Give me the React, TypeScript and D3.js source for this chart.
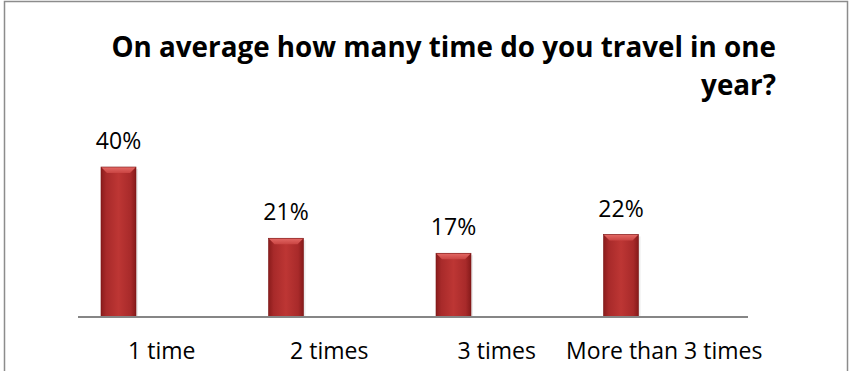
import React from "react";
import * as d3 from "d3";

const categories = ["1 time", "2 times", "3 times", "More than 3 times"];
const values = [40, 21, 17, 22];
const valueLabels = ["40%", "21%", "17%", "22%"];
const titleLines = ["On average how many time do you travel in one", "year?"];

const W = 850;
const H = 371;
const FONT = "'Open Sans', sans-serif";

export default function App() {
  const x = d3.scaleBand<string>().domain(categories).range([78, 748]).paddingInner(0).paddingOuter(0);
  const y = d3.scaleLinear().domain([0, 50]).range([317, 129.5]);
  const barW = 35;
  const barOff = 23;
  const base = y(0);

  return (
    <svg width={W} height={H} style={{ position: "absolute", left: 0, top: 0, background: "#fff" }}>
      <defs>
        <linearGradient id="barGrad" x1="0" x2="1" y1="0" y2="0">
          <stop offset="0" stopColor="#8a1c1c" />
          <stop offset="0.15" stopColor="#a82a2a" />
          <stop offset="0.5" stopColor="#bd3634" />
          <stop offset="0.85" stopColor="#a82a2a" />
          <stop offset="1" stopColor="#861a1a" />
        </linearGradient>
        <linearGradient id="topGrad" x1="0" x2="0" y1="0" y2="1">
          <stop offset="0" stopColor="#e46a66" />
          <stop offset="1" stopColor="#c94442" />
        </linearGradient>
      </defs>
      <rect x={4.5} y={1.5} width={843} height={390} fill="#fff" stroke="#8c8c8c" strokeWidth={1.5} />
      <g fontFamily={FONT} fontWeight="bold" fontSize={27.8} fill="#000">
        <text x={776} y={57} textAnchor="end">{titleLines[0]}</text>
        <text x={776} y={95} textAnchor="end">{titleLines[1]}</text>
      </g>
      {categories.map((c, i) => {
        const bx = (x(c) as number) + barOff;
        const top = y(values[i]);
        const h = base - top;
        const bev = 6;
        return (
          <g key={c}>
            <rect x={bx + 2} y={top + 2} width={barW} height={h - 2} fill="#000" opacity={0.08} />
            <rect x={bx} y={top} width={barW} height={h} fill="url(#barGrad)" />
            <path
              d={`M${bx},${top}L${bx + barW},${top}L${bx + barW - bev},${top + bev}L${bx + bev},${top + bev}Z`}
              fill="url(#topGrad)"
            />
            <rect x={bx} y={top} width={barW} height={h} fill="none" stroke="#7a1616" strokeWidth={0.6} />
            <text x={bx + barW / 2} y={top - 18} textAnchor="middle" fontFamily={FONT} fontSize={23} fill="#000">
              {valueLabels[i]}
            </text>
            <text x={(x(c) as number) + x.bandwidth() / 2} y={359} textAnchor="middle" fontFamily={FONT} fontSize={23} fill="#000">
              {c}
            </text>
          </g>
        );
      })}
      <line x1={78} x2={748} y1={base} y2={base} stroke="#868686" strokeWidth={2} />
    </svg>
  );
}
